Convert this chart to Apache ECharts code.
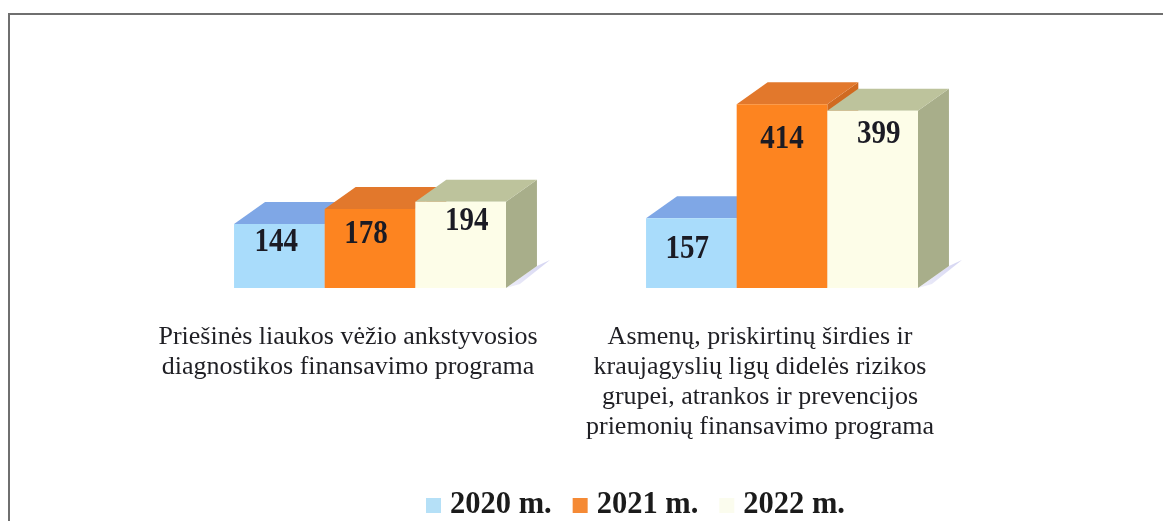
<!DOCTYPE html>
<html><head><meta charset="utf-8">
<script src="https://cdn.jsdelivr.net/npm/echarts@6/dist/echarts.min.js"></script>
<style>html,body{margin:0;padding:0;background:#fff}#c{width:1163px;height:521px}</style>
</head><body><div id="c"></div>
<script>
const categories = [
  'Priešinės liaukos vėžio ankstyvosios\ndiagnostikos finansavimo programa',
  'Asmenų, priskirtinų širdies ir\nkraujagyslių ligų didelės rizikos\ngrupei, atrankos ir prevencijos\npriemonių finansavimo programa'
];
const seriesNames = ['2020 m.', '2021 m.', '2022 m.'];
const values2020 = [144, 157];
const values2021 = [178, 414];
const values2022 = [194, 399];

const palette = [
  {face:'#a9dcfb', top:'#7fa7e6', side:'#6f97d6', legend:'#b5e0f7'},
  {face:'#fd8420', top:'#e2782c', side:'#d06a20', legend:'#f58a35'},
  {face:'#fdfde8', top:'#bdc39c', side:'#a8ae8a', legend:'#fbfcee'}
];
const DEPTH_X = 31, DEPTH_Y = 22;
// hand-placed value labels in the reference: [dx from bar centre, dy below bar top to text centre]
const labelPlacement = [
  [[-3,18],[-4,25],[6,20]],
  [[-4,31],[0,35],[6,24]]
];

function renderBar(params, api){
  const s = params.seriesIndex;
  const idx = api.value(0), val = api.value(1);
  const base = api.coord([idx, 0]);
  const topPt = api.coord([idx, val]);
  const band = api.size([1, 0])[0];
  const w = band * 0.22;
  const x0 = base[0] + 22 + (s - 1.5) * w, x1 = x0 + w;
  const yB = base[1], yT = topPt[1];
  const c = palette[s];
  const poly = (pts, fill) => ({type:'polygon', shape:{points:pts}, style:{fill}});
  const kids = [];
  if (s === 2) {
    kids.push({type:'polygon', shape:{points:[[x1,yB],[x1+DEPTH_X,yB-DEPTH_Y],[x1+DEPTH_X+13,yB-DEPTH_Y-6],[x1+14,yB-4]]},
      style:{fill:new echarts.graphic.LinearGradient(0,1,1,0,[{offset:0,color:'#eeeef9'},{offset:1,color:'#d4d4f2'}])}});
  }
  kids.push(poly([[x1,yT],[x1+DEPTH_X,yT-DEPTH_Y],[x1+DEPTH_X,yB-DEPTH_Y],[x1,yB]], c.side));
  kids.push(poly([[x0,yT],[x0+DEPTH_X,yT-DEPTH_Y],[x1+DEPTH_X,yT-DEPTH_Y],[x1,yT]], c.top));
  kids.push({type:'rect', shape:{x:x0,y:yT,width:w,height:yB-yT}, style:{fill:c.face}});
  const p = labelPlacement[idx][s];
  kids.push({type:'text', x:(x0+x1)/2+p[0], y:yT+p[1], scaleY:1.15,
    style:{text:String(val), x:0, y:0, align:'center', verticalAlign:'middle',
    font:'bold 29px "Liberation Serif"', fill:'#1b1b24'}});
  return {type:'group', children:kids};
}
const allValues = [values2020, values2021, values2022];

const chart = echarts.init(document.getElementById('c'), null, {renderer:'canvas'});
chart.setOption({
  animation:false,
  backgroundColor:'#fff',
  graphic:[{type:'polyline', silent:true, shape:{points:[[9,521],[9,14],[1163,14]]}, style:{stroke:'#6f6f6f', lineWidth:2, fill:null}}],
  grid:{left:142, right:197, top:66, bottom:233},
  xAxis:{type:'category', data:categories, axisLine:{show:false}, axisTick:{show:false},
    axisLabel:{margin:34, interval:0, fontFamily:'Liberation Serif', fontSize:26, lineHeight:30, color:'#1f1f24', verticalAlign:'top', align:'center'}},
  yAxis:{type:'value', min:0, max:500, show:false, splitLine:{show:false}},
  legend:{left:421, top:485, itemWidth:15, itemHeight:15, itemGap:21, icon:'rect',
    data:seriesNames.map((n,i)=>({name:n, itemStyle:{color:palette[i].legend}})),
    textStyle:{fontFamily:'Liberation Serif', fontWeight:'bold', fontSize:30.5, color:'#1b1b1b', padding:[0,0,0,4]}},
  series:seriesNames.map((n,i)=>({
    type:'custom', name:n, clip:false, renderItem:renderBar,
    itemStyle:{color:palette[i].legend},
    encode:{x:0,y:1},
    data:allValues[i].map((v,k)=>[k,v])
  }))
});
</script></body></html>
